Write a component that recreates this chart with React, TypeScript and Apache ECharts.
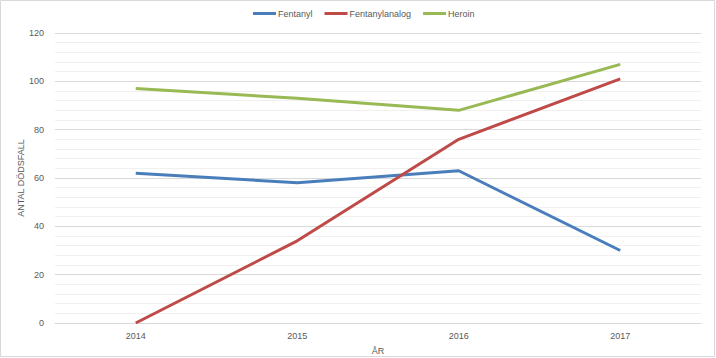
import React, { useEffect, useRef } from "react";
import * as echarts from "echarts";

const years = ["2014", "2015", "2016", "2017"];
const fentanyl = [62, 58, 63, 30];
const fentanylanalog = [0, 34, 76, 101];
const heroin = [97, 93, 88, 107];

const FONT = "Liberation Sans";

export default function App() {
  const ref = useRef<HTMLDivElement>(null);
  useEffect(() => {
    if (!ref.current) return;
    const chart = echarts.init(ref.current, undefined, { renderer: "svg" });
    const lineSeries = (name: string, data: number[], color: string) => ({
      name,
      type: "line",
      data,
      symbol: "none",
      lineStyle: { width: 3, color },
      itemStyle: { color },
    });
    chart.setOption({
      animation: false,
      backgroundColor: "#ffffff",
      textStyle: { fontFamily: FONT },
      legend: {
        top: 4,
        left: 248,
        itemWidth: 23,
        itemHeight: 3,
        itemGap: 12,
        icon: "rect",
        textStyle: { fontSize: 9, color: "#595959", fontFamily: FONT, padding: [0, 0, 0, -3] },
        data: ["Fentanyl", "Fentanylanalog", "Heroin"],
      },
      grid: { left: 55, right: 15, top: 33, bottom: 35, containLabel: false, outerBoundsMode: "none" },
      xAxis: {
        type: "category",
        data: years,
        boundaryGap: true,
        name: "ÅR",
        nameLocation: "middle",
        nameGap: 23,
        nameMoveOverlap: false,
        nameTextStyle: { fontSize: 9, color: "#595959" },
        axisLine: { lineStyle: { color: "#d9d9d9", width: 1 } },
        axisTick: { show: false },
        axisLabel: { fontSize: 9, color: "#595959", margin: 8 },
      },
      yAxis: {
        type: "value",
        min: 0,
        max: 120,
        interval: 20,
        name: "ANTAL DÖDSFALL",
        nameLocation: "middle",
        nameGap: 30,
        nameMoveOverlap: false,
        nameTextStyle: { fontSize: 9, color: "#595959" },
        axisLine: { show: false },
        axisTick: { show: false },
        axisLabel: { fontSize: 9, color: "#595959", margin: 11 },
        splitLine: { lineStyle: { color: "#d9d9d9", width: 1 } },
        minorTick: { show: false, splitNumber: 5 },
        minorSplitLine: { show: true, lineStyle: { color: "#f0f0f0", width: 1 } },
      },
      series: [
        lineSeries("Fentanyl", fentanyl, "#4a7ebb"),
        lineSeries("Fentanylanalog", fentanylanalog, "#be4b48"),
        lineSeries("Heroin", heroin, "#98b954"),
      ],
      graphic: [
        {
          type: "rect",
          shape: { x: 0.5, y: 0.5, width: 714, height: 356 },
          style: { fill: "none", stroke: "#d9d9d9", lineWidth: 1 },
          silent: true,
        },
      ],
    });
    return () => chart.dispose();
  }, []);
  return (
    <div
      ref={ref}
      style={{ position: "fixed", left: 0, top: 0, width: 716, height: 358 }}
    />
  );
}
